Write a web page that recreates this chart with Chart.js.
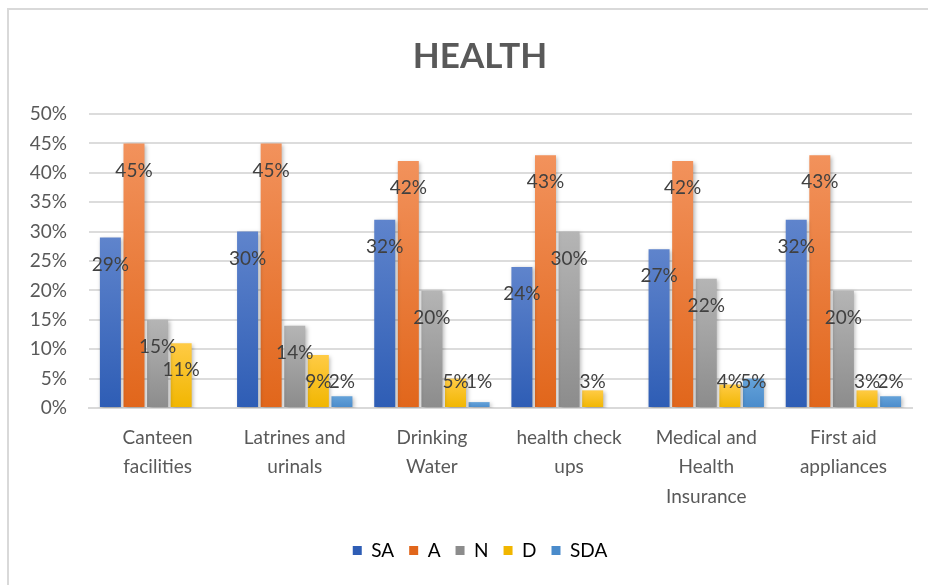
<!DOCTYPE html>
<html>
<head>
<meta charset="utf-8">
<script src="https://cdn.jsdelivr.net/npm/chart.js@4.4.1/dist/chart.umd.min.js"></script>
<style>
    html, body { margin: 0; background: #fff; overflow: hidden; }
    #wrap { position: relative; width: 960px; height: 585px; }
    #frame { position: absolute; left: 7px; top: 8px; width: 960px; height: 600px;
             border-top: 2px solid #d9d9d9; border-left: 2px solid #d9d9d9; pointer-events: none; }
</style>
</head>
<body>
<div id="wrap">
    <canvas id="healthChart" width="960" height="585"></canvas>
    <div id="frame"></div>
</div>
<script>
const categories = [
    ['Canteen', 'facilities'],
    ['Latrines and', 'urinals'],
    ['Drinking', 'Water'],
    ['health check', 'ups'],
    ['Medical and', 'Health', 'Insurance'],
    ['First aid', 'appliances']
];
const seriesNames = ['SA', 'A', 'N', 'D', 'SDA'];
const saValues  = [29, 30, 32, 24, 27, 32];
const aValues   = [45, 45, 42, 43, 42, 43];
const nValues   = [15, 14, 20, 30, 22, 20];
const dValues   = [11, 9, 5, 3, 4, 3];
const sdaValues = [null, 2, 1, null, 5, 2];
const yTicks = [0, 5, 10, 15, 20, 25, 30, 35, 40, 45, 50];

// top / bottom colour of each bar gradient
const gradients = [
    ['#5f84cc', '#2e5db5'],
    ['#f2925c', '#e1661b'],
    ['#b5b5b5', '#8c8c8c'],
    ['#ffcb45', '#f1b600'],
    ['#64a2d9', '#4a8bcb']
];
const FONT = 'Lato, "Liberation Sans", sans-serif';

function barFill(i) {
    return function (context) {
        const chart = context.chart;
        if (!chart.chartArea || context.raw == null) return gradients[i][1];
        const y = chart.scales.y;
        const top = y.getPixelForValue(context.raw);
        const bottom = y.getPixelForValue(0);
        const g = chart.ctx.createLinearGradient(0, top, 0, bottom);
        g.addColorStop(0, gradients[i][0]);
        g.addColorStop(1, gradients[i][1]);
        return g;
    };
}

const allValues = [saValues, aValues, nValues, dValues, sdaValues];

const barLook = {
    id: 'barLook',
    beforeDatasetsDraw(chart) {
        const ctx = chart.ctx;
        ctx.save();
        ctx.shadowColor = 'rgba(0,0,0,0.28)';
        ctx.shadowBlur = 4;
        ctx.shadowOffsetX = 1.5;
        ctx.shadowOffsetY = 1.5;
    },
    afterDatasetsDraw(chart) {
        const ctx = chart.ctx;
        ctx.restore();
        ctx.save();
        ctx.font = '19px ' + FONT;
        ctx.fillStyle = '#404040';
        ctx.textAlign = 'center';
        ctx.textBaseline = 'middle';
        chart.data.datasets.forEach((ds, di) => {
            chart.getDatasetMeta(di).data.forEach((bar, i) => {
                const v = ds.data[i];
                if (v == null) return;
                const y = Math.min(bar.y + 27, 382);
                ctx.fillText(v + '%', bar.x, y);
            });
        });
        ctx.restore();
    }
};

new Chart(document.getElementById('healthChart'), {
    type: 'bar',
    data: {
        labels: categories,
        datasets: seriesNames.map((name, i) => ({
            label: name,
            data: allValues[i],
            backgroundColor: barFill(i),
            borderWidth: 0,
            categoryPercentage: 0.86,
            barPercentage: 0.89
        }))
    },
    options: {
        responsive: false,
        animation: false,
        layout: { padding: { top: 0, right: 0, bottom: 15, left: 0 } },
        plugins: {
            title: {
                display: true,
                text: 'HEALTH',
                color: '#595959',
                font: { family: FONT, size: 35, weight: 'bold' },
                padding: { top: 36, bottom: 36 }
            },
            legend: {
                position: 'bottom',
                labels: {
                    color: '#595959',
                    font: { family: FONT, size: 19 },
                    boxWidth: 9,
                    boxHeight: 9,
                    padding: 15,
                    generateLabels(chart) {
                        return seriesNames.map((name, i) => ({
                            text: name,
                            fillStyle: gradients[i][1],
                            strokeStyle: gradients[i][1],
                            lineWidth: 0,
                            datasetIndex: i
                        }));
                    }
                }
            },
            tooltip: { enabled: false }
        },
        scales: {
            x: {
                grid: { display: false },
                border: { display: true, color: '#d9d9d9', width: 2 },
                ticks: {
                    color: '#595959',
                    font: { family: FONT, size: 19, lineHeight: 1.55 },
                    maxRotation: 0,
                    autoSkip: false,
                    padding: 7
                },
                afterFit(scale) { scale.height = 118; }
            },
            y: {
                min: 0,
                max: 50,
                border: { display: false },
                grid: { color: '#dcdcdc', lineWidth: 2, drawTicks: false },
                afterBuildTicks(scale) { scale.ticks = yTicks.map(v => ({ value: v })); },
                ticks: {
                    color: '#595959',
                    font: { family: FONT, size: 19 },
                    padding: 22,
                    callback: v => v + '%'
                },
                afterFit(scale) { scale.width = 89; }
            },
            // empty right-hand spacer so the plot ends where the reference does
            yRight: {
                position: 'right',
                min: 0,
                max: 50,
                border: { display: false },
                grid: { display: false },
                ticks: { display: false },
                afterFit(scale) { scale.width = 48; }
            }
        }
    },
    plugins: [barLook]
});
</script>
</body>
</html>
